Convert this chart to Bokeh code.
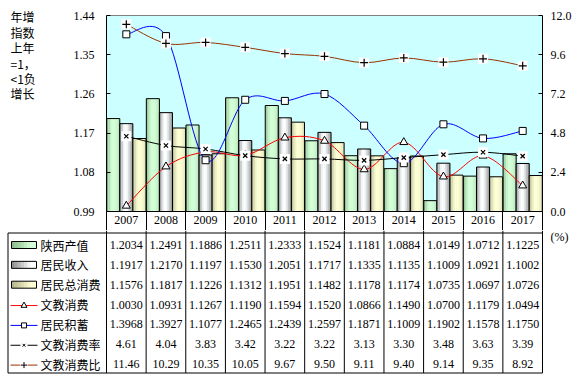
from bokeh.plotting import figure
from bokeh.models import Range1d, LinearAxis, FixedTicker, NumeralTickFormatter
from bokeh.layouts import column, row
from bokeh.embed import file_html
from bokeh.resources import INLINE
from bokeh.core.properties import value

# ---------------- data ----------------
years = ["2007", "2008", "2009", "2010", "2011", "2012", "2013", "2014", "2015", "2016", "2017"]
gdp = [1.2034, 1.2491, 1.1886, 1.2511, 1.2333, 1.1524, 1.1181, 1.0884, 1.0149, 1.0712, 1.1225]
income = [1.1917, 1.2170, 1.1197, 1.1530, 1.2051, 1.1717, 1.1335, 1.1135, 1.1009, 1.0921, 1.1002]
consumption = [1.1576, 1.1817, 1.1226, 1.1312, 1.1951, 1.1482, 1.1178, 1.1174, 1.0735, 1.0697, 1.0726]
edu_spend = [1.0030, 1.0931, 1.1267, 1.1190, 1.1594, 1.1520, 1.0866, 1.1490, 1.0700, 1.1179, 1.0494]
savings = [1.3968, 1.3927, 1.1077, 1.2465, 1.2439, 1.2597, 1.1871, 1.1009, 1.1902, 1.1578, 1.1750]
edu_rate = [4.61, 4.04, 3.83, 3.42, 3.22, 3.22, 3.13, 3.30, 3.48, 3.63, 3.39]
edu_ratio = [11.46, 10.29, 10.35, 10.05, 9.67, 9.50, 9.11, 9.40, 9.14, 9.35, 8.92]
series_names = ["陕西产值", "居民收入", "居民总消费", "文教消费", "居民积蓄", "文教消费率", "文教消费比"]
left_ticks = [0.99, 1.08, 1.17, 1.26, 1.35, 1.44]
right_ticks = [0.0, 2.4, 4.8, 7.2, 9.6, 12.0]
ytitle_lines = ["年增", "指数", "上年", "=1，", "<1负", "增长"]

# ---------------- layout helpers (page pixel geometry) ----------------
N = len(years)
PX = 436.0 / N          # pixels per category
FL = 106.0              # page x of plot frame left
TW = 45                 # width of the title strip figure
TOP = 15.0              # page y of plot area top
BOT = 211.0             # page y of plot area bottom
YROW = 19               # height of the year row kept in the chart figure
def px2x(px):
    return (px - FL) / PX

L0, L1 = left_ticks[0], left_ticks[-1]
R0, R1 = right_ticks[0], right_ticks[-1]
l_top = L1 + TOP * (L1 - L0) / (BOT - TOP)     # range extended up to page y=0
r_top = R1 + TOP * (R1 - R0) / (BOT - TOP)

SERIF = "Liberation Serif"
CJK = "Noto Sans CJK SC"

def mix(c1, c2, t):
    a = [int(c1[i:i + 2], 16) for i in (1, 3, 5)]
    b = [int(c2[i:i + 2], 16) for i in (1, 3, 5)]
    return "#%02x%02x%02x" % tuple(int(round(a[k] + (b[k] - a[k]) * t)) for k in range(3))

bar_styles = [
    ("#7fae7f", "#d4ffd4", [0.35, 0.6, 0.85, 1.0, 1.0, 0.95, 0.85, 0.7]),
    ("#7c7c7c", "#ffffff", [0.3, 0.6, 0.9, 1.0, 0.95, 0.75, 0.5, 0.3]),
    ("#a8a880", "#ffffd2", [0.3, 0.6, 0.85, 1.0, 1.0, 0.95, 0.85, 0.7]),
]

def bare(fig):
    fig.xgrid.visible = False
    fig.ygrid.visible = False

# ---------------- title strip (left of chart) ----------------
T = figure(width=TW, height=int(BOT) + YROW, x_range=Range1d(0, TW), y_range=Range1d(BOT, 0),
           output_backend="svg", toolbar_location=None, x_axis_location=None, y_axis_location=None,
           min_border_left=0, min_border_right=0, min_border_top=0, min_border_bottom=YROW,
           background_fill_color="white", border_fill_color="white", outline_line_color=None)
bare(T)
ycent = [16.2, 32.0, 47.3, 62.5, 78.0, 93.2]
T.text(x=[10] * len(ytitle_lines), y=ycent, text=ytitle_lines, text_align="left",
       text_baseline="middle", text_font=value(CJK), text_font_size="12px", text_color="black")

# ---------------- main chart ----------------
A = figure(frame_width=436, frame_height=int(BOT), x_range=Range1d(0, N), y_range=Range1d(L0, l_top),
           output_backend="svg", toolbar_location=None, x_axis_location=None, y_axis_location=None,
           min_border_left=int(FL) - TW, min_border_right=31, min_border_top=0, min_border_bottom=YROW,
           background_fill_color="white", border_fill_color="white", outline_line_color=None)
A.extra_y_ranges = {"r": Range1d(R0, r_top)}
bare(A)

ly = LinearAxis(ticker=FixedTicker(ticks=left_ticks), formatter=NumeralTickFormatter(format="0.00"),
                bounds=(L0, L1),
                major_tick_in=4, major_tick_out=0, minor_tick_in=0, minor_tick_out=0,
                major_label_standoff=12, major_label_text_font=SERIF, major_label_text_font_size="12px",
                major_label_text_color="black", axis_line_color="black", major_tick_line_color="black")
A.add_layout(ly, "left")
ry = LinearAxis(y_range_name="r", ticker=FixedTicker(ticks=right_ticks), formatter=NumeralTickFormatter(format="0.0"),
                bounds=(R0, R1),
                major_tick_in=4, major_tick_out=0, minor_tick_in=0, minor_tick_out=0,
                major_label_standoff=8, major_label_text_font=SERIF, major_label_text_font_size="12px",
                major_label_text_color="black", axis_line_color="black", major_tick_line_color="black")
A.add_layout(ry, "right")
centers = [i + 0.5 for i in range(N)]
bx = LinearAxis(ticker=FixedTicker(ticks=centers, minor_ticks=list(range(N + 1))),
                major_label_overrides={c: y for c, y in zip(centers, years)},
                major_tick_in=0, major_tick_out=0, minor_tick_in=0, minor_tick_out=YROW,
                minor_tick_line_color="black", axis_line_color="black",
                major_label_standoff=-15, major_label_text_font=SERIF, major_label_text_font_size="12px",
                major_label_text_color="black")
A.add_layout(bx, "below")

# plot area background and top border
A.quad(left=[0], right=[N], bottom=[L0], top=[L1], fill_color="#ccffff", line_color=None)
A.segment(x0=[0], y0=[L1], x1=[N], y1=[L1], line_color="#808080", line_width=1)

# bars with simulated gradient
BW = 0.33
NS = 8
for k, (vals, (dark, light, prof)) in enumerate(zip([gdp, income, consumption], bar_styles)):
    bc = [c + (k - 1) * BW for c in centers]
    for j in range(NS):
        col = mix(dark, light, prof[j])
        xs = [c - BW / 2 + (j + 0.5) * BW / NS for c in bc]
        A.vbar(x=xs, top=vals, bottom=L0, width=BW / NS * 1.08, fill_color=col, line_color=None)
    A.vbar(x=bc, top=vals, bottom=L0, width=BW, fill_color=None, line_color="black", line_width=1)

# smoothed lines (Catmull-Rom -> Bezier, as Excel smooth lines)
def smooth(ax, ys, color, rname="default"):
    n = len(ys)
    xs = centers
    d = dict(x0=[], y0=[], x1=[], y1=[], cx0=[], cy0=[], cx1=[], cy1=[])
    for i in range(n - 1):
        pm = max(i - 1, 0)
        pp = min(i + 2, n - 1)
        d["x0"].append(xs[i]); d["y0"].append(ys[i])
        d["x1"].append(xs[i + 1]); d["y1"].append(ys[i + 1])
        d["cx0"].append(xs[i] + (xs[i + 1] - xs[pm]) / 6.0)
        d["cy0"].append(ys[i] + (ys[i + 1] - ys[pm]) / 6.0)
        d["cx1"].append(xs[i + 1] - (xs[pp] - xs[i]) / 6.0)
        d["cy1"].append(ys[i + 1] - (ys[pp] - ys[i]) / 6.0)
    ax.bezier(**d, line_color=color, line_width=1, y_range_name=rname)

smooth(A, edu_spend, "#ff0000")
smooth(A, savings, "#0000ff")
smooth(A, edu_rate, "#000000", "r")
smooth(A, edu_ratio, "#993300", "r")

A.scatter(centers, edu_spend, marker="triangle", size=8, fill_color="white", line_color="black")
A.scatter(centers, savings, marker="square", size=7, fill_color="white", line_color="black")
A.scatter(centers, edu_rate, marker="square", size=10, fill_color="white", line_color=None, y_range_name="r")
A.scatter(centers, edu_rate, marker="x", size=6, line_color="black", line_width=1.2, y_range_name="r")
A.scatter(centers, edu_ratio, marker="square", size=10, fill_color="white", line_color=None, y_range_name="r")
A.scatter(centers, edu_ratio, marker="cross", size=8, line_color="black", line_width=1.2, y_range_name="r")

# ---------------- data table ----------------
B0 = BOT + YROW          # page y where the table figure starts
BH = 145
BWID = 573
def py2b(py):
    return py - B0

B = figure(width=BWID, height=BH, x_range=Range1d(px2x(0), px2x(BWID)), y_range=Range1d(BH, 0),
           output_backend="svg", toolbar_location=None, x_axis_location=None, y_axis_location=None,
           min_border_left=0, min_border_right=0, min_border_top=0, min_border_bottom=0,
           background_fill_color="white", border_fill_color="white", outline_line_color=None)
bare(B)

top_y, bot_y = py2b(232.5), py2b(372.5)
xl = px2x(7.5)
B.segment(x0=[xl, xl, xl], y0=[top_y, bot_y, top_y], x1=[N, N, xl], y1=[top_y, bot_y, bot_y],
          line_color="black", line_width=1)
B.segment(x0=list(range(N + 1)), y0=[0] * (N + 1), x1=list(range(N + 1)), y1=[bot_y] * (N + 1),
          line_color="black", line_width=1)

row_c = [py2b(244.5 + 19.85 * i) for i in range(7)]
rows = [(gdp, "{:.4f}"), (income, "{:.4f}"), (consumption, "{:.4f}"), (edu_spend, "{:.4f}"),
        (savings, "{:.4f}"), (edu_rate, "{:.2f}"), (edu_ratio, "{:.2f}")]
for (vals, fmt), rc in zip(rows, row_c):
    B.text(x=centers, y=[rc] * N, text=[fmt.format(v) for v in vals], text_align="center",
           text_baseline="middle", text_font=value(SERIF), text_font_size="12px", text_color="black")

B.text(x=[px2x(40)] * 7, y=row_c, text=series_names, text_align="left", text_baseline="middle",
       text_font=value(CJK), text_font_size="12px", text_color="black")

# legend swatches: bars
sl, sr = px2x(11), px2x(36)
for k, (dark, light, prof) in enumerate(bar_styles):
    rc = row_c[k]
    w = (sr - sl) / NS
    B.quad(left=[sl + j * w for j in range(NS)], right=[sl + (j + 1) * w + w * 0.08 for j in range(NS)],
           top=[rc - 3.5] * NS, bottom=[rc + 3.5] * NS,
           fill_color=[mix(dark, light, min(1.0, 0.15 + j * 0.15)) for j in range(NS)], line_color=None)
    B.quad(left=[sl], right=[sr], top=[rc - 3.5], bottom=[rc + 3.5], fill_color=None, line_color="black")

# legend swatches: lines
lx0, lx1, lxm = px2x(10), px2x(37), px2x(23.5)
line_cols = ["#ff0000", "#0000ff", "#000000", "#993300"]
for k, c in enumerate(line_cols):
    rc = row_c[3 + k] + 1
    B.segment(x0=[lx0], y0=[rc], x1=[lx1], y1=[rc], line_color=c, line_width=1)
B.scatter([lxm], [row_c[3] + 1], marker="triangle", size=6, fill_color="white", line_color="black")
B.scatter([lxm], [row_c[4] + 1], marker="square", size=5, fill_color="white", line_color="black")
B.scatter([lxm], [row_c[5] + 1], marker="square", size=7, fill_color="white", line_color=None)
B.scatter([lxm], [row_c[5] + 1], marker="x", size=4, line_color="black")
B.scatter([lxm], [row_c[6] + 1], marker="square", size=7, fill_color="white", line_color=None)
B.scatter([lxm], [row_c[6] + 1], marker="cross", size=6, line_color="black")

B.text(x=[px2x(559)], y=[py2b(236.5)], text=["(%)"], text_align="center", text_baseline="middle",
       text_font=value(SERIF), text_font_size="12px", text_color="black")

layout = column(row(T, A, spacing=0), B, spacing=0)
open("out.html", "w").write(file_html(layout, INLINE))
